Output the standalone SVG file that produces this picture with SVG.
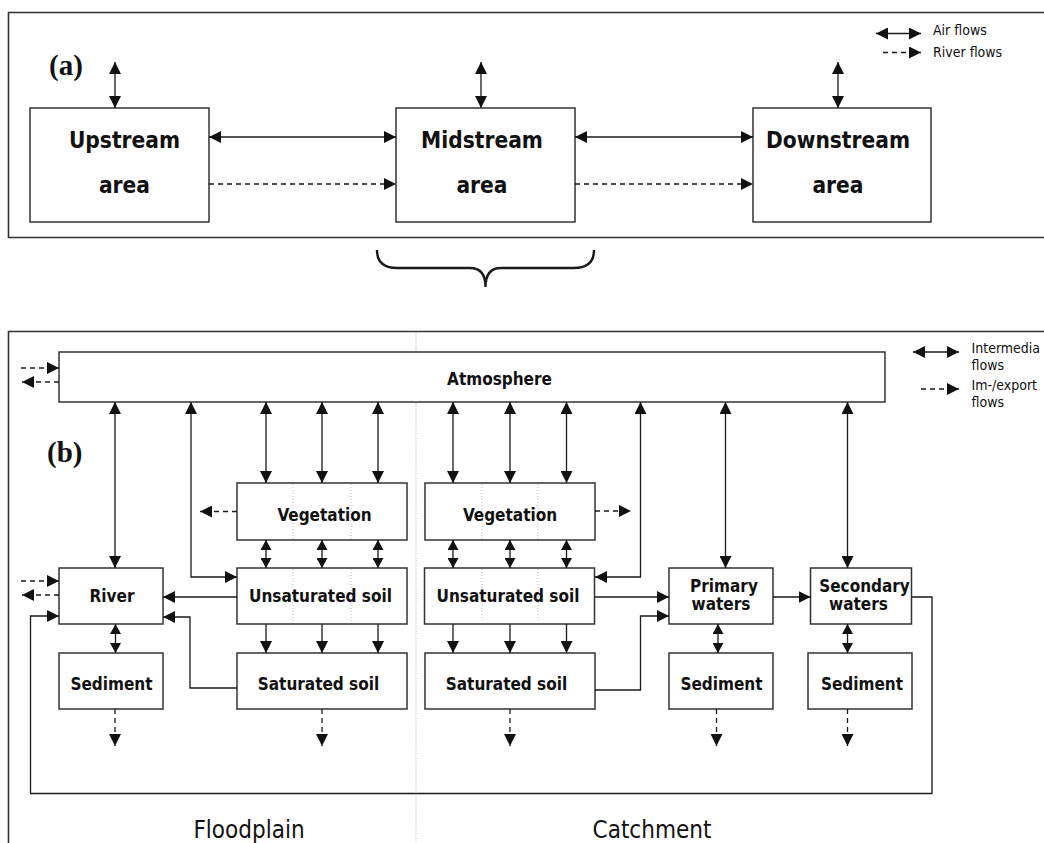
<svg xmlns="http://www.w3.org/2000/svg" width="1044" height="843" viewBox="0 0 1044 843">
<style>
.frame{fill:none;stroke:#333;stroke-width:1.6}
.box{fill:#fff;stroke:#333;stroke-width:1.5}
.grid{stroke:#bbb;stroke-width:1;stroke-dasharray:1,2}
.ln{fill:none;stroke:#1a1a1a;stroke-width:1.3}
.ds{fill:none;stroke:#1a1a1a;stroke-width:1.3;stroke-dasharray:5,4}
.big{font-family:"DejaVu Sans Condensed","DejaVu Sans",sans-serif;font-stretch:condensed;font-weight:bold;font-size:22.5px;fill:#111;text-anchor:middle}
.lbl{font-family:"DejaVu Sans Condensed","DejaVu Sans",sans-serif;font-stretch:condensed;font-weight:bold;font-size:17px;fill:#111;text-anchor:middle}
.leg{font-family:"DejaVu Sans Condensed","DejaVu Sans",sans-serif;font-stretch:condensed;font-size:14px;fill:#111}
.reg{font-family:"DejaVu Sans Condensed","DejaVu Sans",sans-serif;font-stretch:condensed;font-size:24px;fill:#111;text-anchor:middle}
.pan{font-family:"Liberation Serif",serif;font-weight:bold;font-size:29px;fill:#111}
</style>
<defs>
<marker id="ah" viewBox="0 0 12 12" refX="12" refY="6" markerWidth="12" markerHeight="12" markerUnits="userSpaceOnUse" orient="auto-start-reverse">
<path d="M0,0 L12,6 L0,12 z" fill="#111"/>
</marker>
<marker id="sh" viewBox="0 0 10 11" refX="10" refY="5.5" markerWidth="10" markerHeight="11" markerUnits="userSpaceOnUse" orient="auto-start-reverse">
<path d="M0,0 L10,5.5 L0,11 z" fill="#111"/>
</marker>
</defs>
<rect width="1044" height="843" fill="#fff"/>

<g id="frames">
<path class="frame" d="M1045,12.5 H8.5 V237.5 H1045"/>
<path class="frame" d="M1045,331.5 H8.5 V845"/>
<line x1="416" y1="333" x2="416" y2="843" stroke="#aaa" stroke-width="1" stroke-dasharray="1,1.5"/>
<path class="ln" d="M377,250 Q377,268 397,268 H470 Q485.5,268 485.5,287 Q485.5,268 501,268 H574 Q594,268 594,250" style="stroke-width:2.4"/>
</g>

<text class="pan" x="49" y="75">(a)</text>
<text class="pan" x="47" y="462">(b)</text>

<g id="upstream">
<rect class="box" x="30" y="108" width="179" height="114"/>
<text class="big" x="124.5" y="148">Upstream</text>
<text class="big" x="124.5" y="193">area</text>
</g>
<g id="midstream">
<rect class="box" x="396" y="108" width="179" height="114"/>
<text class="big" x="482" y="148">Midstream</text>
<text class="big" x="482" y="193">area</text>
</g>
<g id="downstream">
<rect class="box" x="753" y="108" width="178" height="114"/>
<text class="big" x="838" y="148">Downstream</text>
<text class="big" x="838" y="193">area</text>
</g>

<g id="legend-a">
<line class="ln" x1="876" y1="33.5" x2="921" y2="33.5" marker-start="url(#ah)" marker-end="url(#ah)"/>
<text class="leg" x="933" y="35">Air flows</text>
<line class="ds" x1="883" y1="52.5" x2="921" y2="52.5" marker-end="url(#ah)"/>
<text class="leg" x="933" y="57">River flows</text>
</g>

<g id="connectors-a">
<line class="ln" x1="115" y1="62" x2="115" y2="108" marker-start="url(#ah)" marker-end="url(#ah)"/>
<line class="ln" x1="481" y1="62" x2="481" y2="108" marker-start="url(#ah)" marker-end="url(#ah)"/>
<line class="ln" x1="838" y1="62" x2="838" y2="108" marker-start="url(#ah)" marker-end="url(#ah)"/>
<line class="ln" x1="209" y1="137" x2="396" y2="137" marker-start="url(#ah)" marker-end="url(#ah)"/>
<line class="ln" x1="575" y1="137" x2="753" y2="137" marker-start="url(#ah)" marker-end="url(#ah)"/>
<line class="ds" x1="209" y1="184" x2="396" y2="184" marker-end="url(#ah)"/>
<line class="ds" x1="575" y1="184" x2="753" y2="184" marker-end="url(#ah)"/>
</g>

<g id="atmosphere">
<rect class="box" x="59" y="352" width="826" height="50"/>
<text class="lbl" x="499.5" y="385">Atmosphere</text>
</g>
<g id="veg-fp">
<rect class="box" x="237" y="483" width="170" height="57"/>
<line class="grid" x1="293" y1="484" x2="293" y2="539"/>
<line class="grid" x1="351" y1="484" x2="351" y2="539"/>
<text class="lbl" x="324.5" y="521">Vegetation</text>
</g>
<g id="veg-ca">
<rect class="box" x="425" y="483" width="170" height="57"/>
<line class="grid" x1="482" y1="484" x2="482" y2="539"/>
<line class="grid" x1="538" y1="484" x2="538" y2="539"/>
<text class="lbl" x="510" y="521">Vegetation</text>
</g>
<g id="unsat-fp">
<rect class="box" x="237" y="568" width="170" height="56"/>
<line class="grid" x1="293" y1="569" x2="293" y2="623"/>
<line class="grid" x1="351" y1="569" x2="351" y2="623"/>
<text class="lbl" x="320.5" y="602">Unsaturated soil</text>
</g>
<g id="unsat-ca">
<rect class="box" x="424.5" y="568" width="170" height="56"/>
<line class="grid" x1="482" y1="569" x2="482" y2="623"/>
<line class="grid" x1="538" y1="569" x2="538" y2="623"/>
<text class="lbl" x="508" y="602">Unsaturated soil</text>
</g>
<g id="river">
<rect class="box" x="59" y="568" width="104" height="56"/>
<text class="lbl" x="112" y="602">River</text>
</g>
<g id="sed-river">
<rect class="box" x="59" y="653" width="104" height="56"/>
<text class="lbl" x="111.5" y="690">Sediment</text>
</g>
<g id="sat-fp">
<rect class="box" x="237" y="653" width="170" height="56"/>
<text class="lbl" x="318.5" y="690">Saturated soil</text>
</g>
<g id="sat-ca">
<rect class="box" x="425" y="653" width="170" height="56"/>
<text class="lbl" x="506.5" y="690">Saturated soil</text>
</g>
<g id="primary">
<rect class="box" x="669" y="568" width="104" height="56"/>
<text class="lbl" x="724" y="592">Primary</text>
<text class="lbl" x="721" y="610">waters</text>
</g>
<g id="secondary">
<rect class="box" x="810.5" y="568" width="101" height="56"/>
<text class="lbl" x="864.5" y="592">Secondary</text>
<text class="lbl" x="858.5" y="610">waters</text>
</g>
<g id="sed-primary">
<rect class="box" x="669" y="653" width="104" height="56"/>
<text class="lbl" x="721.5" y="690">Sediment</text>
</g>
<g id="sed-secondary">
<rect class="box" x="808" y="653" width="104" height="56"/>
<text class="lbl" x="862" y="690">Sediment</text>
</g>

<g id="legend-b">
<line class="ln" x1="913" y1="352" x2="959" y2="352" marker-start="url(#ah)" marker-end="url(#ah)"/>
<text class="leg" x="971.5" y="353">Intermedia</text>
<text class="leg" x="971.5" y="370">flows</text>
<line class="ds" x1="921" y1="389" x2="959" y2="389" marker-end="url(#ah)"/>
<text class="leg" x="971.5" y="390">Im-/export</text>
<text class="leg" x="971.5" y="407">flows</text>
</g>

<text class="reg" x="249" y="838">Floodplain</text>
<text class="reg" x="652" y="838">Catchment</text>

<g id="connectors-b">
<line class="ds" x1="21" y1="368" x2="59" y2="368" marker-end="url(#ah)"/>
<line class="ds" x1="59" y1="382" x2="22" y2="382" marker-end="url(#ah)"/>
<line class="ds" x1="21" y1="581" x2="59" y2="581" marker-end="url(#ah)"/>
<line class="ds" x1="59" y1="595" x2="22" y2="595" marker-end="url(#ah)"/>
<line class="ds" x1="237" y1="511.5" x2="200" y2="511.5" marker-end="url(#ah)"/>
<line class="ds" x1="595" y1="511" x2="631" y2="511" marker-end="url(#ah)"/>
<line class="ds" x1="115" y1="709" x2="115" y2="746" marker-end="url(#ah)"/>
<line class="ds" x1="322" y1="709" x2="322" y2="746" marker-end="url(#ah)"/>
<line class="ds" x1="510" y1="709" x2="510" y2="746" marker-end="url(#ah)"/>
<line class="ds" x1="716.5" y1="709" x2="716.5" y2="746" marker-end="url(#ah)"/>
<line class="ds" x1="847.5" y1="709" x2="847.5" y2="746" marker-end="url(#ah)"/>
<line class="ln" x1="115" y1="402" x2="115" y2="568" marker-start="url(#ah)" marker-end="url(#ah)"/>
<polyline class="ln" points="191,402 191,577 237,577" marker-start="url(#ah)" marker-end="url(#ah)"/>
<line class="ln" x1="266" y1="402" x2="266" y2="483" marker-start="url(#ah)" marker-end="url(#ah)"/>
<line class="ln" x1="322" y1="402" x2="322" y2="483" marker-start="url(#ah)" marker-end="url(#ah)"/>
<line class="ln" x1="378" y1="402" x2="378" y2="483" marker-start="url(#ah)" marker-end="url(#ah)"/>
<line class="ln" x1="453" y1="402" x2="453" y2="483" marker-start="url(#ah)" marker-end="url(#ah)"/>
<line class="ln" x1="510" y1="402" x2="510" y2="483" marker-start="url(#ah)" marker-end="url(#ah)"/>
<line class="ln" x1="566.5" y1="402" x2="566.5" y2="483" marker-start="url(#ah)" marker-end="url(#ah)"/>
<polyline class="ln" points="640.5,402 640.5,577 595,577" marker-start="url(#ah)" marker-end="url(#ah)"/>
<line class="ln" x1="725.5" y1="402" x2="725.5" y2="568" marker-start="url(#ah)" marker-end="url(#ah)"/>
<line class="ln" x1="847.5" y1="402" x2="847.5" y2="568" marker-start="url(#ah)" marker-end="url(#ah)"/>
<line class="ln" x1="266" y1="540" x2="266" y2="568" marker-start="url(#sh)" marker-end="url(#sh)"/>
<line class="ln" x1="322" y1="540" x2="322" y2="568" marker-start="url(#sh)" marker-end="url(#sh)"/>
<line class="ln" x1="378" y1="540" x2="378" y2="568" marker-start="url(#sh)" marker-end="url(#sh)"/>
<line class="ln" x1="453" y1="540" x2="453" y2="568" marker-start="url(#sh)" marker-end="url(#sh)"/>
<line class="ln" x1="510" y1="540" x2="510" y2="568" marker-start="url(#sh)" marker-end="url(#sh)"/>
<line class="ln" x1="566.5" y1="540" x2="566.5" y2="568" marker-start="url(#sh)" marker-end="url(#sh)"/>
<line class="ln" x1="115.5" y1="624" x2="115.5" y2="653" marker-start="url(#sh)" marker-end="url(#sh)"/>
<line class="ln" x1="718" y1="624" x2="718" y2="653" marker-start="url(#sh)" marker-end="url(#sh)"/>
<line class="ln" x1="847.5" y1="624" x2="847.5" y2="653" marker-start="url(#sh)" marker-end="url(#sh)"/>
<line class="ln" x1="266" y1="624" x2="266" y2="653" marker-end="url(#ah)"/>
<line class="ln" x1="322" y1="624" x2="322" y2="653" marker-end="url(#ah)"/>
<line class="ln" x1="378" y1="624" x2="378" y2="653" marker-end="url(#ah)"/>
<line class="ln" x1="453" y1="624" x2="453" y2="653" marker-end="url(#ah)"/>
<line class="ln" x1="510" y1="624" x2="510" y2="653" marker-end="url(#ah)"/>
<line class="ln" x1="566.5" y1="624" x2="566.5" y2="653" marker-end="url(#ah)"/>
<line class="ln" x1="237" y1="597" x2="163" y2="597" marker-end="url(#ah)"/>
<polyline class="ln" points="237,688 190,688 190,617 163,617" marker-end="url(#ah)"/>
<line class="ln" x1="594.5" y1="597" x2="669" y2="597" marker-end="url(#ah)"/>
<polyline class="ln" points="595,690 640.5,690 640.5,616 669,616" marker-end="url(#ah)"/>
<line class="ln" x1="773" y1="597" x2="810.5" y2="597" marker-end="url(#ah)"/>
<polyline class="ln" points="911.5,597 932,597 932,793.5 30.5,793.5 30.5,616 59,616" marker-end="url(#ah)"/>
</g>
</svg>
